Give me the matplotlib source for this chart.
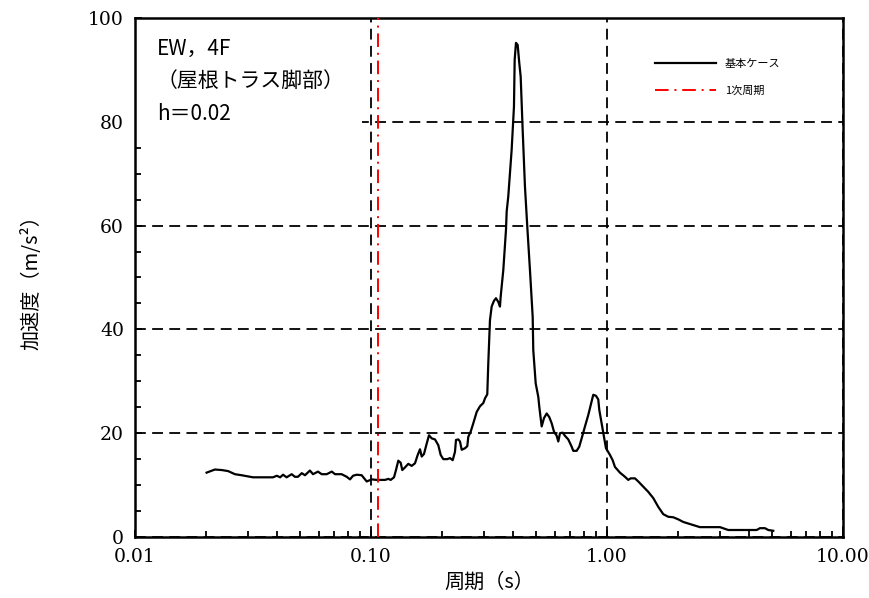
import numpy as np
import matplotlib.pyplot as plt
from matplotlib.patches import Rectangle
from matplotlib.ticker import FixedLocator, MultipleLocator, NullFormatter

plt.rcParams['font.family'] = ['Noto Sans CJK JP', 'DejaVu Sans']

# response spectrum (period [s], acceleration [m/s2])
period = [0.0201, 0.0218, 0.0233, 0.0248, 0.0265, 0.0283, 0.0316, 0.0384, 0.0399, 0.0412,
          0.0424, 0.0439, 0.0461, 0.0476, 0.0490, 0.0509, 0.0525, 0.0551, 0.0568, 0.0596,
          0.0618, 0.0649, 0.0682, 0.0704, 0.0751, 0.0789, 0.0815, 0.0839, 0.0870, 0.0913,
          0.0959, 0.1007, 0.1057, 0.1110, 0.1147, 0.1184, 0.1212, 0.1252, 0.1276, 0.1305,
          0.1336, 0.1357, 0.1393, 0.1439, 0.1487, 0.1536, 0.1577, 0.1613, 0.1640, 0.1677,
          0.1722, 0.1761, 0.1808, 0.1867, 0.1928, 0.1974, 0.2025, 0.2106, 0.2161, 0.2219,
          0.2269, 0.2292, 0.2344, 0.2383, 0.2423, 0.2502, 0.2559, 0.2584, 0.2645, 0.2713,
          0.2805, 0.2897, 0.2991, 0.3041, 0.3110, 0.3141, 0.3193, 0.3246, 0.3320, 0.3386,
          0.3462, 0.3520, 0.3544, 0.3636, 0.3733, 0.3758, 0.3817, 0.3945, 0.4035, 0.4063,
          0.4115, 0.4184, 0.4250, 0.4308, 0.4393, 0.4492, 0.4595, 0.4717, 0.4844, 0.4872,
          0.4988, 0.5116, 0.5166, 0.5288, 0.5408, 0.5553, 0.5695, 0.5831, 0.5963, 0.6123,
          0.6219, 0.6322, 0.6492, 0.6637, 0.6855, 0.7086, 0.7198, 0.7439, 0.7630, 0.7811,
          0.8068, 0.8332, 0.8613, 0.8748, 0.8983, 0.9186, 0.9277, 0.9495, 0.9712, 0.9903,
          1.030, 1.057, 1.081, 1.135, 1.192, 1.231, 1.260, 1.314, 1.357, 1.425,
          1.496, 1.571, 1.650, 1.732, 1.818, 1.910, 2.005, 2.105, 2.247, 2.477,
          3.012, 3.266, 4.309, 4.449, 4.672, 4.826, 5.067]
accel = [12.4, 13.0, 12.9, 12.7, 12.1, 11.9, 11.5, 11.5, 11.8, 11.5,
         12.0, 11.5, 12.1, 11.6, 11.6, 12.3, 11.9, 12.8, 12.1, 12.6,
         12.1, 12.1, 12.6, 12.1, 12.1, 11.6, 11.1, 11.8, 12.0, 11.9,
         10.7, 11.1, 11.0, 11.0, 11.0, 11.2, 11.0, 11.5, 12.9, 14.7,
         14.3, 12.9, 13.4, 14.1, 13.7, 14.2, 15.8, 16.9, 15.5, 16.0,
         18.0, 19.6, 19.0, 18.8, 17.7, 15.8, 15.0, 15.0, 15.2, 14.8,
         16.4, 18.7, 18.8, 18.4, 16.8, 17.1, 17.5, 19.3, 20.3, 21.9,
         24.1, 25.2, 25.8, 26.7, 27.5, 33.5, 41.8, 44.4, 45.5, 46.0,
         45.3, 44.4, 46.3, 51.4, 59.2, 62.7, 65.6, 74.6, 82.9, 91.9,
         95.2, 94.8, 91.3, 88.7, 78.4, 67.5, 59.8, 51.4, 42.4, 36.0,
         29.6, 27.0, 25.1, 21.3, 22.9, 23.8, 23.1, 21.9, 20.3, 19.5,
         18.4, 20.0, 20.1, 19.5, 18.8, 17.4, 16.6, 16.6, 17.4, 19.0,
         21.3, 23.5, 26.1, 27.4, 27.2, 26.5, 24.5, 21.9, 19.3, 17.1,
         15.8, 14.8, 13.5, 12.4, 11.6, 11.0, 11.3, 11.3, 10.7, 9.7,
         8.7, 7.5, 5.8, 4.4, 3.9, 3.8, 3.4, 2.9, 2.5, 1.9,
         1.9, 1.35, 1.35, 1.7, 1.7, 1.35, 1.2]

first_period = 0.107
xticks = [0.01, 0.1, 1, 10]
xticklabels = ['0.01', '0.10', '1.00', '10.00']
yticks = [0, 20, 40, 60, 80, 100]

fig = plt.figure(figsize=(8.69, 5.98), dpi=100)
ax = fig.add_axes([0.1554, 0.102, 0.8146, 0.868])

ax.set_xscale('log')
ax.set_xlim(0.01, 10)
ax.set_ylim(0, 100)

ax.plot(period, accel, color='black', lw=1.6, label='基本ケース', zorder=3)
ax.axvline(first_period, color='red', lw=1.4, ls=(0, (7, 3, 1, 3)), label='1次周期', zorder=3)

# grid
ax.set_axisbelow(True)
ax.grid(True, which='major', color='black', lw=1.3, ls=(0, (6, 3.5)))

# white box behind the annotation (hides the grid there)
ax.add_patch(Rectangle((0, 0.785), 0.32, 0.215, transform=ax.transAxes,
                       facecolor='white', edgecolor='none', zorder=1))
ax.text(0.031, 0.962, 'EW，4F\n（屋根トラス脚部）\nh＝0.02', transform=ax.transAxes,
        fontsize=15, va='top', ha='left', linespacing=1.62, zorder=4)

# axes formatting
ax.xaxis.set_major_locator(FixedLocator(xticks))
ax.set_xticklabels(xticklabels, family='DejaVu Serif', fontsize=13.5)
ax.xaxis.set_minor_formatter(NullFormatter())
ax.set_yticks(yticks)
ax.set_yticklabels([str(v) for v in yticks], family='DejaVu Serif', fontsize=13.5)
ax.yaxis.set_minor_locator(MultipleLocator(5))
ax.tick_params(which='both', direction='in', width=1.3, colors='black')
ax.tick_params(which='major', length=5, pad=8)
ax.tick_params(which='minor', length=4)
for s in ax.spines.values():
    s.set_linewidth(1.8)

ax.set_xlabel('周期（s）', fontsize=14.5, labelpad=4)
ax.set_ylabel('加速度（m/s²）', fontsize=14.5, labelpad=33)

leg = ax.legend(loc='upper left', bbox_to_anchor=(0.72, 0.94), frameon=False,
                fontsize=8, handlelength=5.5, labelspacing=1.5, handletextpad=0.8)

fig.savefig('out.png', dpi=100)
